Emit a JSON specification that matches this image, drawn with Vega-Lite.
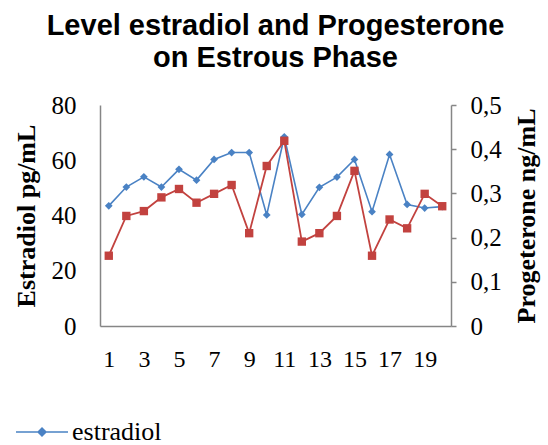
{
  "$schema": "https://vega.github.io/schema/vega-lite/v6.json",
  "autosize": {"type": "none"},
  "width": 351,
  "height": 221,
  "padding": {"left": 100, "top": 105, "right": 97, "bottom": 119},
  "background": "white",
  "title": {
    "text": ["Level estradiol and Progesterone", "on Estrous Phase"],
    "font": "Liberation Sans",
    "fontSize": 29,
    "fontWeight": "bold",
    "color": "#000000",
    "lineHeight": 32,
    "anchor": "middle",
    "offset": 20
  },
  "config": {
    "view": {"stroke": null},
    "legend": {
      "labelFont": "Liberation Serif",
      "labelFontSize": 26,
      "labelColor": "#000000"
    },
    "axis": {
      "labelFont": "Liberation Serif",
      "labelFontSize": 25,
      "labelColor": "#000000",
      "titleFont": "Liberation Serif",
      "titleFontSize": 26,
      "titleFontWeight": "bold",
      "titleColor": "#000000",
      "domainColor": "#868686",
      "domainWidth": 1.5,
      "tickColor": "#868686",
      "tickWidth": 1.5,
      "grid": false
    }
  },
  "data": {
    "values": [
      {"day": 1, "estradiol": 43.5, "progesterone": 0.159},
      {"day": 2, "estradiol": 50.3, "progesterone": 0.249},
      {"day": 3, "estradiol": 54.0, "progesterone": 0.260},
      {"day": 4, "estradiol": 50.3, "progesterone": 0.291},
      {"day": 5, "estradiol": 56.7, "progesterone": 0.310},
      {"day": 6, "estradiol": 52.8, "progesterone": 0.279},
      {"day": 7, "estradiol": 60.3, "progesterone": 0.299},
      {"day": 8, "estradiol": 62.8, "progesterone": 0.319},
      {"day": 9, "estradiol": 62.8, "progesterone": 0.210},
      {"day": 10, "estradiol": 40.2, "progesterone": 0.362},
      {"day": 11, "estradiol": 68.5, "progesterone": 0.419},
      {"day": 12, "estradiol": 40.4, "progesterone": 0.191},
      {"day": 13, "estradiol": 50.2, "progesterone": 0.210},
      {"day": 14, "estradiol": 53.9, "progesterone": 0.249},
      {"day": 15, "estradiol": 60.3, "progesterone": 0.351},
      {"day": 16, "estradiol": 41.4, "progesterone": 0.159},
      {"day": 17, "estradiol": 62.1, "progesterone": 0.241},
      {"day": 18, "estradiol": 44.0, "progesterone": 0.221},
      {"day": 19, "estradiol": 42.7, "progesterone": 0.299},
      {"day": 20, "estradiol": 43.2, "progesterone": 0.271}
    ]
  },
  "encoding": {
    "x": {
      "field": "day",
      "type": "ordinal",
      "scale": {"type": "point", "padding": 0.5},
      "axis": {
        "title": null,
        "values": [1, 3, 5, 7, 9, 11, 13, 15, 17, 19],
        "labelAngle": 0,
        "ticks": false,
        "labelPadding": 21,
        "labelFontSize": 24,
        "labelOverlap": false
      }
    }
  },
  "layer": [
    {
      "mark": {"type": "line", "strokeWidth": 1.6, "point": {"shape": "diamond", "size": 60, "filled": true, "opacity": 1}},
      "encoding": {
        "y": {
          "field": "estradiol",
          "type": "quantitative",
          "scale": {"domain": [0, 80]},
          "axis": {
            "title": "Estradiol pg/mL",
            "orient": "left",
            "values": [0, 20, 40, 60, 80],
            "ticks": false,
            "labelPadding": 24,
            "titlePadding": 12
          }
        },
        "color": {
          "datum": "estradiol",
          "type": "nominal",
          "scale": {"domain": ["estradiol", "progesterone"], "range": ["#4A82C4", "#C2423F"]},
          "legend": {
            "title": null,
            "values": ["estradiol"],
            "orient": "none",
            "legendX": -85,
            "legendY": 300,
            "symbolType": "M-1,0L1,0M-0.15,0L0,-0.15L0.15,0L0,0.15Z",
            "symbolSize": 2704,
            "symbolStrokeWidth": 1.6,
            "symbolFillColor": "#4A82C4",
            "symbolStrokeColor": "#4A82C4",
            "labelFont": "Liberation Serif",
            "labelFontSize": 26,
            "labelColor": "#000000",
            "labelOffset": 3,
            "labelLimit": 300,
            "encode": {
              "labels": {"update": {"font": {"value": "Liberation Serif"}, "fontSize": {"value": 26}}}
            }
          }
        }
      }
    },
    {
      "mark": {"type": "line", "strokeWidth": 1.8, "point": {"shape": "square", "size": 70, "filled": true, "opacity": 1}},
      "encoding": {
        "y": {
          "field": "progesterone",
          "type": "quantitative",
          "scale": {"domain": [0, 0.5]},
          "axis": {
            "title": "Progeterone ng/mL",
            "orient": "right",
            "values": [0, 0.1, 0.2, 0.3, 0.4, 0.5],
            "tickSize": 5,
            "labelPadding": 14,
            "labelExpr": "datum.value == 0 ? '0' : replace(format(datum.value, '.1f'), '.', ',')",
            "titleAngle": 270,
            "titlePadding": 38
          }
        },
        "color": {"datum": "progesterone", "type": "nominal"}
      }
    }
  ],
  "resolve": {"scale": {"y": "independent"}}
}
